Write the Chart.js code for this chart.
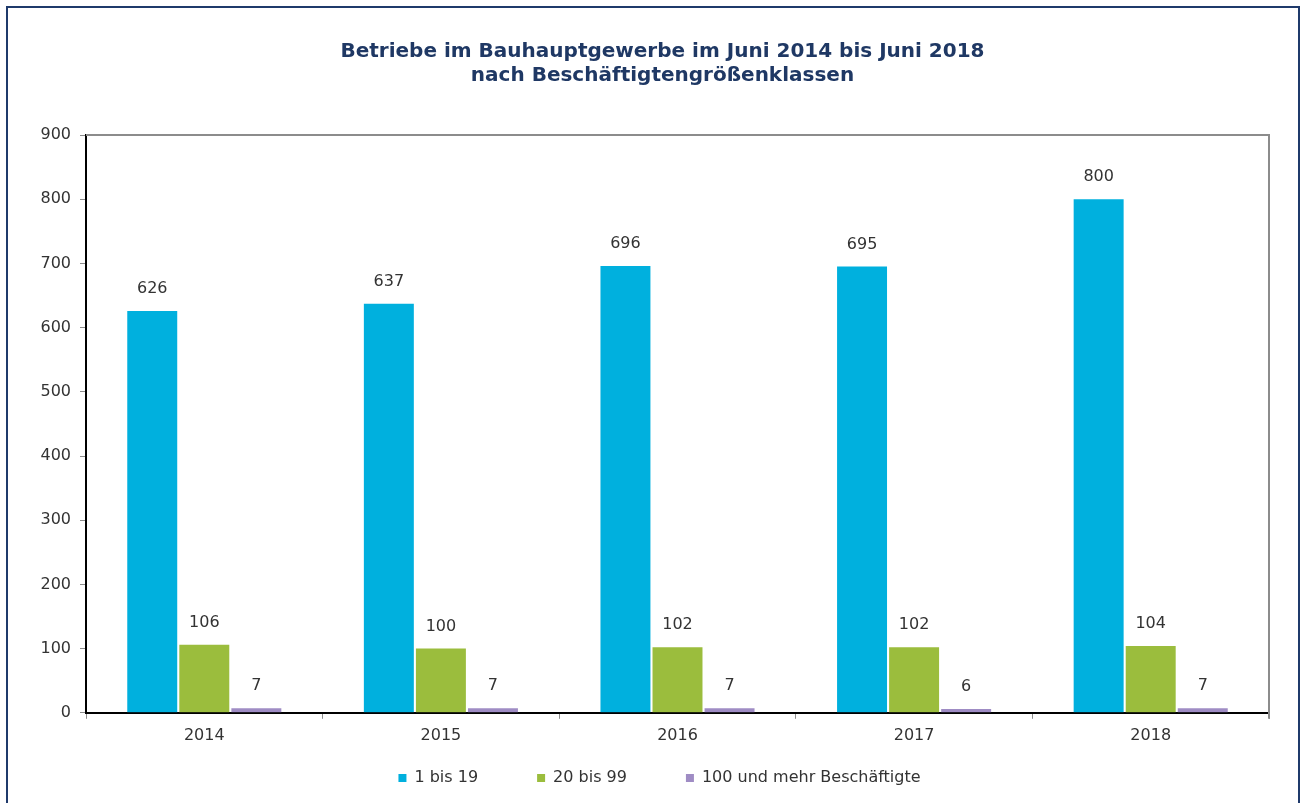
<!DOCTYPE html>
<html>
<head>
<meta charset="utf-8">
<script src="https://cdn.jsdelivr.net/npm/chart.js@4"></script>
<style>
  html, body { margin: 0; padding: 0; background: #fff; }
  #wrap { position: relative; width: 1304px; height: 803px; }
  #frame {
    position: absolute; left: 6px; top: 6px; width: 1294px; height: 820px;
    border: 2px solid #1f3a6b; box-sizing: border-box; pointer-events: none;
  }
</style>
</head>
<body>
<div id="wrap">
  <canvas id="myChart" width="1304" height="803"></canvas>
  <div id="frame"></div>
</div>
<script>
(() => {
    "use strict";

    const years = ["2014", "2015", "2016", "2017", "2018"];
    const small = [626, 637, 696, 695, 800];
    const medium = [106, 100, 102, 102, 104];
    const large = [7, 7, 7, 6, 7];
    const seriesNames = ["1 bis 19", "20 bis 99", "100 und mehr Beschäftigte"];
    const colors = ["#00b0de", "#9bbd3d", "#9f8cc4"];

    const FONT = "'DejaVu Sans', Verdana, sans-serif";
    const TEXT = "#333333";
    const LEGEND_GAP = 59;   // horizontal gap between legend items
    const LEGEND_VPAD = 18;  // vertical padding we actually want
    const LEGEND_SHIFT = 25; // legend sits a bit right of centre
    const TITLE_SHIFT = 28;

    // value labels above each bar
    const valueLabels = {
        id: "valueLabels",
        afterDatasetsDraw(chart) {
            const ctx = chart.ctx;
            ctx.save();
            ctx.font = "16px " + FONT;
            ctx.fillStyle = TEXT;
            ctx.textAlign = "center";
            ctx.textBaseline = "bottom";
            chart.data.datasets.forEach((ds, i) => {
                chart.getDatasetMeta(i).data.forEach((bar, j) => {
                    ctx.fillText(String(ds.data[j]), bar.x, bar.y - 14);
                });
            });
            ctx.restore();
        },
    };

    // grey frame on top and right of the plot area
    const plotFrame = {
        id: "plotFrame",
        beforeDatasetsDraw(chart) {
            const { ctx, chartArea: a } = chart;
            ctx.save();
            ctx.strokeStyle = "#8c8c8c";
            ctx.lineWidth = 2;
            ctx.beginPath();
            ctx.moveTo(a.left, a.top);
            ctx.lineTo(a.right, a.top);
            ctx.lineTo(a.right, a.bottom + 6);
            ctx.stroke();
            ctx.restore();
        },
    };

    // legend padding is used both ways; keep the wide gap only horizontally,
    // and nudge legend and title to the right like the original
    const boxTweaks = {
        id: "boxTweaks",
        beforeLayout(chart) {
            const lg = chart.legend;
            if (lg && !lg._patched) {
                lg._patched = true;
                const extra = LEGEND_GAP - LEGEND_VPAD;
                const fit = lg.fit;
                lg.fit = function () {
                    fit.call(this);
                    this.height -= extra;
                };
                const draw = lg.draw;
                lg.draw = function (area) {
                    const { top, left, right } = this;
                    this.top = top - extra;
                    this.left = left + LEGEND_SHIFT;
                    this.right = right + LEGEND_SHIFT;
                    draw.call(this, area);
                    this.top = top;
                    this.left = left;
                    this.right = right;
                };
            }
            const tb = chart.titleBlock;
            if (tb && !tb._patched) {
                tb._patched = true;
                const draw = tb.draw;
                tb.draw = function (area) {
                    this.ctx.save();
                    this.ctx.translate(TITLE_SHIFT, 0);
                    draw.call(this, area);
                    this.ctx.restore();
                };
            }
        },
    };

    const canvas = document.getElementById("myChart");
    // @ts-ignore
    new Chart(canvas, {
        type: "bar",
        data: {
            labels: years,
            datasets: [small, medium, large].map((d, i) => ({
                label: seriesNames[i],
                data: d,
                backgroundColor: colors[i],
                categoryPercentage: 0.66,
                barPercentage: 0.96,
            })),
        },
        options: {
            responsive: false,
            animation: false,
            layout: { padding: { left: 0, right: 35, top: 0, bottom: 7 } },
            plugins: {
                title: {
                    display: true,
                    text: [
                        "Betriebe im Bauhauptgewerbe im Juni 2014 bis Juni 2018",
                        "nach Beschäftigtengrößenklassen",
                    ],
                    color: "#1f3864",
                    font: { family: FONT, size: 20, weight: "bold", lineHeight: 1.2 },
                    padding: { top: 40, bottom: 47 },
                },
                legend: {
                    position: "bottom",
                    labels: {
                        color: TEXT,
                        font: { family: FONT, size: 16 },
                        boxWidth: 8,
                        boxHeight: 8,
                        padding: LEGEND_GAP,
                    },
                },
                tooltip: { enabled: false },
            },
            scales: {
                x: {
                    grid: {
                        drawOnChartArea: false,
                        tickLength: 6,
                        color: "#8c8c8c",
                    },
                    border: { color: "#000", width: 2 },
                    ticks: { color: TEXT, font: { family: FONT, size: 16 }, padding: 7 },
                },
                y: {
                    min: 0,
                    max: 900,
                    afterFit: (s) => { s.width = 86; },
                    grid: {
                        drawOnChartArea: false,
                        tickLength: 6,
                        color: "#8c8c8c",
                    },
                    border: { color: "#000", width: 2 },
                    ticks: {
                        stepSize: 100,
                        color: TEXT,
                        font: { family: FONT, size: 16 },
                        padding: 9,
                    },
                },
            },
        },
        plugins: [plotFrame, valueLabels, boxTweaks],
    });
})();
</script>
</body>
</html>
